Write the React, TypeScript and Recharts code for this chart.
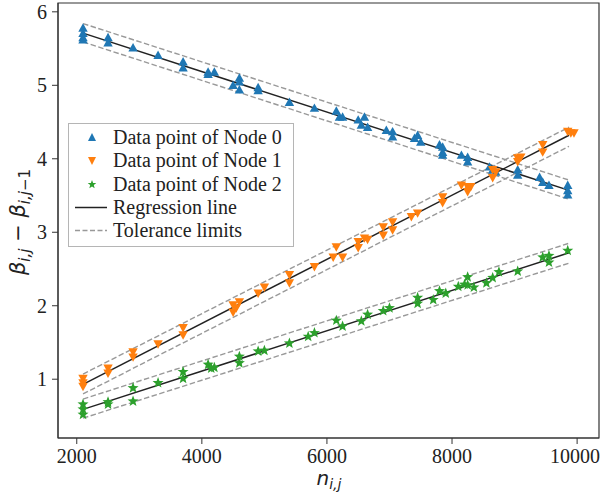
import React from 'react';
import {
  ComposedChart,
  Scatter,
  Line,
  XAxis,
  YAxis,
  Legend,
  ReferenceArea,
} from 'recharts';

// Data (x = n_ij, y = beta_ij - beta_ij-1)
const node0X = [2100, 2100, 2100, 2100, 2500, 2500, 2900, 3300, 3700, 3700, 4100, 4200, 4100, 4600, 4500, 4600, 4600, 4900, 4900, 5400, 5800, 6150, 6200, 6250, 6500, 6600, 6650, 6550, 6950, 7050, 7050, 7400, 7450, 7500, 7800, 7850, 7850, 7850, 8150, 8250, 8250, 8600, 8650, 8700, 9050, 9050, 9400, 9450, 9550, 9850, 9850, 9850];
const node0Y = [5.78, 5.71, 5.65, 5.62, 5.65, 5.58, 5.51, 5.41, 5.32, 5.24, 5.18, 5.18, 5.15, 5.1, 5.0, 4.94, 5.05, 4.97, 4.93, 4.77, 4.69, 4.65, 4.57, 4.57, 4.53, 4.57, 4.43, 4.46, 4.39, 4.37, 4.3, 4.28, 4.32, 4.23, 4.19, 4.16, 4.09, 4.05, 4.05, 4.02, 3.96, 3.89, 3.85, 3.82, 3.85, 3.78, 3.75, 3.68, 3.64, 3.64, 3.57, 3.51];

const node1X = [2100, 2100, 2100, 2500, 2500, 2900, 2900, 3300, 3700, 3700, 4500, 4600, 4500, 4550, 4900, 5000, 5400, 5400, 5800, 6150, 6100, 6250, 6500, 6600, 6500, 6650, 6900, 6900, 7050, 7050, 7350, 7450, 7850, 7850, 8150, 8250, 8300, 8250, 8650, 8700, 8650, 9050, 9100, 9050, 9450, 9450, 9850, 9900, 9950];
const node1Y = [1.01, 0.95, 0.9, 1.15, 1.08, 1.37, 1.3, 1.48, 1.7, 1.6, 2.01, 2.05, 1.91, 1.97, 2.17, 2.25, 2.42, 2.31, 2.53, 2.8, 2.66, 2.66, 2.87, 2.92, 2.79, 2.9, 3.07, 2.96, 3.14, 3.03, 3.21, 3.26, 3.48, 3.4, 3.64, 3.62, 3.62, 3.55, 3.85, 3.82, 3.74, 4.01, 4.02, 3.96, 4.19, 4.09, 4.37, 4.35, 4.35];

const node2X = [2100, 2100, 2100, 2500, 2500, 2900, 2900, 3300, 3700, 3700, 4100, 4150, 4200, 4600, 4600, 4900, 5000, 5400, 5700, 5800, 6150, 6250, 6550, 6650, 6900, 7000, 7450, 7450, 7700, 7800, 7900, 8100, 8200, 8250, 8250, 8350, 8550, 8650, 8750, 9050, 9450, 9550, 9550, 9850];
const node2Y = [0.66, 0.59, 0.52, 0.69, 0.66, 0.88, 0.7, 0.95, 1.1, 1.01, 1.2, 1.15, 1.16, 1.31, 1.22, 1.38, 1.39, 1.49, 1.58, 1.63, 1.8, 1.72, 1.79, 1.88, 1.93, 1.97, 2.11, 2.03, 2.08, 2.2, 2.17, 2.26, 2.29, 2.39, 2.28, 2.25, 2.31, 2.38, 2.46, 2.47, 2.66, 2.68, 2.59, 2.75];

// regression and tolerance lines: end points at first and last n
const lineX = [2100, 9870];
const reg0 = [5.71, 3.57];
const upper0 = [5.84, 3.71];
const lower0 = [5.59, 3.45];
const reg1 = [0.93, 4.32];
const upper1 = [1.07, 4.43];
const lower1 = [0.8, 4.17];
const reg2 = [0.59, 2.72];
const upper2 = [0.73, 2.85];
const lower2 = [0.47, 2.58];

const xTicks = [2000, 4000, 6000, 8000, 10000];
const yTicks = [1, 2, 3, 4, 5, 6];
const xDomain = [1700, 10350];
const yDomain = [0.2, 6.12];

const BLUE = '#1f77b4';
const ORANGE = '#ff7f0e';
const GREEN = '#2ca02c';
const DASH = '#999999';
const INK = '#222222';
const SERIF = 'Liberation Serif';
const MATH = 'DejaVu Sans';

const toPoints = (xs: number[], ys: number[]) => xs.map((x, i) => ({ x, y: ys[i] }));

const upTri = (fill: string, s = 4.7) => (props: any) => {
  const { cx, cy } = props;
  if (cx == null || cy == null) return <g />;
  return <polygon points={`${cx},${cy - s} ${cx - s},${cy + s * 0.8} ${cx + s},${cy + s * 0.8}`} fill={fill} />;
};

const downTri = (fill: string, s = 4.7) => (props: any) => {
  const { cx, cy } = props;
  if (cx == null || cy == null) return <g />;
  return <polygon points={`${cx},${cy + s} ${cx - s},${cy - s * 0.8} ${cx + s},${cy - s * 0.8}`} fill={fill} />;
};

const starPts = (cx: number, cy: number, r: number) => {
  const pts: string[] = [];
  for (let k = 0; k < 10; k++) {
    const rr = k % 2 === 0 ? r : r * 0.42;
    const a = -Math.PI / 2 + (k * Math.PI) / 5;
    pts.push(`${cx + rr * Math.cos(a)},${cy + rr * Math.sin(a)}`);
  }
  return pts.join(' ');
};

const star = (fill: string, r = 5.8) => (props: any) => {
  const { cx, cy } = props;
  if (cx == null || cy == null) return <g />;
  return <polygon points={starPts(cx, cy, r)} fill={fill} />;
};

const YLabel = () => (
  <text transform="rotate(-90)" x={-222} y={25} textAnchor="middle" fontFamily={MATH} fontSize={21} fill={INK}>
    <tspan fontStyle="italic">β</tspan>
    <tspan fontStyle="italic" fontSize={15} dy={5}>i,j</tspan>
    <tspan dy={-5}> − </tspan>
    <tspan fontStyle="italic">β</tspan>
    <tspan fontStyle="italic" fontSize={15} dy={5}>i,j</tspan>
    <tspan fontSize={15}>−1</tspan>
  </text>
);

const XLabel = () => (
  <text x={329} y={485} textAnchor="middle" fontFamily={MATH} fontSize={20} fill={INK}>
    <tspan fontStyle="italic">n</tspan>
    <tspan fontStyle="italic" fontSize={14} dy={4}>i,j</tspan>
  </text>
);

const legendRows = [
  { label: 'Data point of Node 0', kind: 'up' },
  { label: 'Data point of Node 1', kind: 'down' },
  { label: 'Data point of Node 2', kind: 'star' },
  { label: 'Regression line', kind: 'line' },
  { label: 'Tolerance limits', kind: 'dash' },
];

const LegendIcon = ({ kind }: { kind: string }) => (
  <svg width={44} height={23} style={{ display: 'block' }}>
    {kind === 'up' && <polygon points="23,7 19,15 27,15" fill={BLUE} />}
    {kind === 'down' && <polygon points="23,16 19,8 27,8" fill={ORANGE} />}
    {kind === 'star' && <polygon points={starPts(23, 11.5, 4.5)} fill={GREEN} />}
    {kind === 'line' && <line x1={6} x2={38} y1={11.5} y2={11.5} stroke={INK} strokeWidth={1.5} />}
    {kind === 'dash' && <line x1={6} x2={38} y1={11.5} y2={11.5} stroke={DASH} strokeWidth={1.3} strokeDasharray="5 2.5" />}
  </svg>
);

const renderLegend = () => (
  <div
    style={{
      width: 226,
      height: 124,
      boxSizing: 'border-box',
      border: '1px solid #b5b5b5',
      background: 'rgba(255,255,255,0.85)',
      paddingTop: 2,
      fontFamily: SERIF,
      fontSize: 20,
      color: INK,
    }}
  >
    {legendRows.map((r) => (
      <div key={r.label} style={{ display: 'flex', alignItems: 'center', height: 23.3, lineHeight: '23px' }}>
        <LegendIcon kind={r.kind} />
        <span>{r.label}</span>
      </div>
    ))}
  </div>
);

export default function App() {
  const lines = [
    { key: 'reg0', ys: reg0, dashed: false },
    { key: 'up0', ys: upper0, dashed: true },
    { key: 'lo0', ys: lower0, dashed: true },
    { key: 'reg1', ys: reg1, dashed: false },
    { key: 'up1', ys: upper1, dashed: true },
    { key: 'lo1', ys: lower1, dashed: true },
    { key: 'reg2', ys: reg2, dashed: false },
    { key: 'up2', ys: upper2, dashed: true },
    { key: 'lo2', ys: lower2, dashed: true },
  ];

  return (
    <div style={{ position: 'absolute', left: 0, top: 0, width: 600, height: 495, background: '#fff' }}>
      <ComposedChart width={600} height={495} margin={{ top: 3, right: 1, bottom: 0, left: 0 }}>
        <XAxis
          type="number"
          dataKey="x"
          domain={xDomain}
          ticks={xTicks}
          allowDataOverflow
          height={57}
          tickSize={6}
          tickMargin={5}
          stroke="#333"
          tick={{ fill: INK, fontSize: 20, fontFamily: SERIF }}
          label={{ content: () => <XLabel /> }}
        />
        <YAxis
          type="number"
          dataKey="y"
          domain={yDomain}
          ticks={yTicks}
          allowDataOverflow
          width={58}
          tickSize={6}
          tickMargin={5}
          stroke="#333"
          tick={{ fill: INK, fontSize: 20, fontFamily: SERIF }}
          label={{ content: () => <YLabel /> }}
        />
        <ReferenceArea
          x1={xDomain[0]}
          x2={xDomain[1]}
          y1={yDomain[0]}
          y2={yDomain[1]}
          fill="none"
          stroke="#333"
          strokeWidth={1.2}
          ifOverflow="extendDomain"
        />
        <Scatter data={toPoints(node0X, node0Y)} fill={BLUE} shape={upTri(BLUE)} isAnimationActive={false} legendType="none" />
        <Scatter data={toPoints(node1X, node1Y)} fill={ORANGE} shape={downTri(ORANGE)} isAnimationActive={false} legendType="none" />
        <Scatter data={toPoints(node2X, node2Y)} fill={GREEN} shape={star(GREEN)} isAnimationActive={false} legendType="none" />
        {lines.map((l) => (
          <Line
            key={l.key}
            data={toPoints(lineX, l.ys)}
            dataKey="y"
            type="linear"
            stroke={l.dashed ? DASH : INK}
            strokeWidth={l.dashed ? 1.4 : 1.5}
            strokeDasharray={l.dashed ? '5.5 2.5' : undefined}
            dot={false}
            activeDot={false}
            isAnimationActive={false}
            legendType="none"
          />
        ))}
        <Legend
          layout="vertical"
          align="center"
          verticalAlign="middle"
          content={renderLegend}
          wrapperStyle={{ left: 68, top: 123, width: 226, height: 124 }}
        />
      </ComposedChart>
    </div>
  );
}
